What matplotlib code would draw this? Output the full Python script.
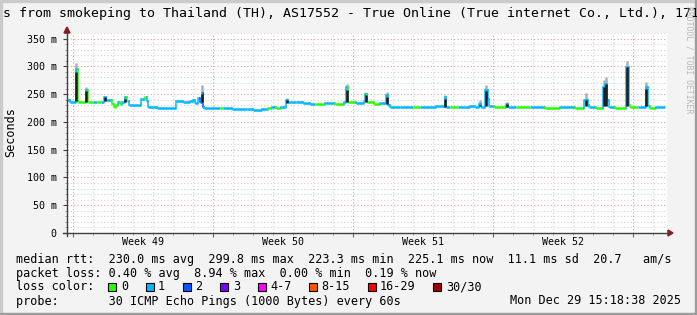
import numpy as np
import matplotlib.pyplot as plt
from matplotlib.lines import Line2D
from matplotlib.patches import Rectangle, Polygon

W, H = 697, 315
BACK = "#F3F3F3"
MONO = "DejaVu Sans Mono"
AXIS = "#404040"
ARROW = "#8b1a1a"

# median rtt as steps: start day, value (ms), loss colour index
step_day = [0.00, 0.15, 0.45, 0.53, 0.95, 1.03, 1.30, 1.50, 1.70, 1.87, 1.97, 2.25, 2.33, 2.45,
            2.55, 2.65, 2.75, 2.90, 3.00, 3.08, 3.70, 3.90, 4.00, 4.05, 4.50, 5.45, 5.80, 6.15,
            6.30, 6.40, 6.55, 6.65, 6.73, 6.78, 6.85, 7.65, 7.80, 8.25, 9.00, 9.30, 9.75, 10.05,
            10.25, 10.45, 10.70, 10.97, 11.05, 11.45, 11.80, 12.15, 12.40, 12.90, 13.40, 13.85,
            13.97, 14.05, 14.45, 14.85, 14.92, 15.00, 15.35, 15.65, 15.95, 16.03, 16.15, 16.65,
            17.30, 17.65, 18.45, 18.88, 18.95, 19.15, 19.55, 20.15, 20.40, 20.62, 20.70, 20.90,
            21.03, 21.10, 21.35, 21.95, 22.05, 22.45, 23.15, 23.90, 24.65, 25.40, 25.85, 26.03,
            26.10, 26.45, 26.80, 26.90, 27.00, 27.08, 27.40, 27.95, 28.08, 28.15, 28.55, 28.93,
            29.03, 29.15, 29.45]
step_ms = [240, 235, 295, 236, 258, 236, 235, 236, 235, 244, 239, 233, 226, 230,
           236, 233, 236, 244, 238, 230, 241, 244, 238, 227, 225, 237, 236, 238,
           240, 234, 243, 236, 252, 227, 225, 225, 225, 224, 223, 222, 224, 225,
           226, 225, 226, 240, 235, 236, 234, 233, 233, 234, 233, 236,
           262, 235, 234, 237, 250, 236, 233, 234, 248, 230, 226, 227,
           226, 227, 228, 244, 227, 226, 227, 229, 227, 232, 227, 258,
           241, 228, 226, 233, 226, 226, 226, 225, 226, 225, 240, 230,
           226, 225, 262, 268, 240, 226, 225, 298, 230, 226, 226, 262,
           228, 225, 226]
step_loss = [1, 1, 1, 0, 1, 0, 1, 0, 1, 1, 1, 0, 0, 0,
             1, 0, 1, 1, 0, 1, 1, 0, 1, 1, 1, 1, 1, 1,
             1, 1, 1, 2, 1, 2, 1, 0, 1, 1, 1, 1, 1, 0,
             1, 0, 1, 1, 1, 1, 1, 1, 0, 1, 0, 1,
             1, 0, 1, 1, 1, 0, 0, 1, 1, 1, 1, 1,
             0, 1, 1, 1, 1, 0, 1, 1, 1, 1, 1, 1,
             1, 1, 0, 1, 1, 0, 1, 0, 1, 0, 1, 1,
             1, 0, 1, 1, 1, 1, 0, 1, 1, 0, 1, 1,
             1, 0, 1]
end_day = 29.9

# smoke (spread of the 30 pings) at the spikes
smoke_day = [0.47, 0.97, 1.90, 2.92, 6.74, 11.00, 13.98, 14.93, 15.98, 18.92,
             20.63, 20.95, 21.98, 25.93, 26.85, 26.95, 28.02, 28.97]
smoke_lo = [237, 236, 238, 235, 235, 234, 235, 236, 232, 227,
            228, 228, 227, 228, 228, 228, 228, 228]
smoke_core = [290, 255, 244, 242, 250, 239, 258, 248, 245, 242,
              231, 255, 232, 240, 262, 268, 298, 260]
smoke_hi = [306, 262, 247, 247, 266, 243, 268, 254, 254, 248,
            240, 267, 236, 252, 275, 280, 310, 271]

loss_labels = ["0", "1", "2", "3", "4-7", "8-15", "16-29", "30/30"]
loss_colors = ["#26ff00", "#00b8ff", "#0059ff", "#7e00ff", "#ff00ff", "#ff5500", "#ff0000", "#a10000"]

week_labels = ["Week 49", "Week 50", "Week 51", "Week 52"]
week_starts = [0.3, 7.3, 14.3, 21.3, 28.3]

rtt_stats = [230.0, 299.8, 223.3, 225.1]
rtt_sd = 11.1
rtt_ams = 20.7
loss_stats = [0.40, 8.94, 0.00, 0.19]

title = "s from smokeping to Thailand (TH), AS17552 - True Online (True internet Co., Ltd.), 171"
probe = "30 ICMP Echo Pings (1000 Bytes) every 60s"
stamp = "Mon Dec 29 15:18:38 2025"


def fx(x):
    return x / W


def fy(y):
    return 1 - y / H


fig = plt.figure(figsize=(W / 100, H / 100), dpi=100)
fig.patch.set_facecolor(BACK)

ax = fig.add_axes([fx(67), fy(233), 600 / W, 200 / H])
ax.set_facecolor("white")
ax.set_xlim(0, 30)
ax.set_ylim(0, 360)
for s in ax.spines.values():
    s.set_visible(False)

ax.set_yticks(np.arange(0, 351, 50))
ax.set_yticks(np.arange(0, 361, 10), minor=True)
ax.set_yticklabels(["0"] + [f"{v} m" for v in range(50, 351, 50)], family=MONO, fontsize=7.2)
ax.set_xticks(week_starts)
ax.set_xticks(np.arange(0.3, 30, 1), minor=True)
ax.set_xticklabels([])
ax.tick_params(axis="y", which="major", length=3, color=AXIS, pad=4.5)
ax.tick_params(axis="y", which="minor", length=1.5, color="#909090")
ax.tick_params(axis="x", which="major", length=3, color="#c04040")
ax.tick_params(axis="x", which="minor", length=1.5, color="#909090")
ax.grid(which="minor", color="#d2d2d2", ls=(0, (1, 2)), lw=0.8)
ax.grid(which="major", color="#e6a0a0", ls=(0, (1, 2)), lw=0.8)
ax.set_axisbelow(True)

# median line, coloured by packet loss
for i in range(len(step_day)):
    d0 = step_day[i]
    d1 = step_day[i + 1] if i + 1 < len(step_day) else end_day
    c = loss_colors[step_loss[i]]
    ax.plot([d0, d1], [step_ms[i], step_ms[i]], color=c, lw=1.8,
            solid_capstyle="butt", zorder=3)
    if i > 0:
        ax.plot([d0, d0], [step_ms[i - 1], step_ms[i]], color=c, lw=1.1,
                solid_capstyle="projecting", zorder=3)

ax.vlines(smoke_day, smoke_lo, smoke_hi, color="#b0b0b0", lw=1.8, zorder=2)
ax.vlines(smoke_day, smoke_lo, smoke_core, color="#1c1c1c", lw=1.8, zorder=4)

for lab, a, b in zip(week_labels, week_starts[:-1], week_starts[1:]):
    ax.text((a + b) / 2, -9 / 200, lab, transform=ax.get_xaxis_transform(),
            ha="center", va="center", family=MONO, fontsize=7.2)

# axes with arrows
fig.add_artist(Line2D([fx(63), fx(669)], [fy(233), fy(233)], color=AXIS, lw=1))
fig.add_artist(Line2D([fx(67), fx(67)], [fy(236), fy(31)], color=AXIS, lw=1))
fig.add_artist(Polygon([[fx(668), fy(230)], [fx(673), fy(233)], [fx(668), fy(236)]],
                       closed=True, color=ARROW, transform=fig.transFigure))
fig.add_artist(Polygon([[fx(64), fy(33)], [fx(67), fy(27)], [fx(70), fy(33)]],
                       closed=True, color=ARROW, transform=fig.transFigure))

# title, labels, watermark
fig.text(fx(3), fy(13), title, ha="left", va="center", family=MONO, fontsize=9.57)
fig.text(fx(11), fy(132), "Seconds", rotation=90, ha="center", va="center",
         family=MONO, fontsize=8.5)
fig.text(fx(689), fy(60), "RRDTOOL / TOBI OETIKER", rotation=270, ha="center", va="center",
         family=MONO, fontsize=5.85, color="#b8b8b8")

# legend
LX = 15.5
line1 = "median rtt:  " + "".join(f"{v:.1f} ms {k}  " for v, k in zip(rtt_stats, ["avg", "max", "min", "now"]))
line1 += f"{rtt_sd:.1f} ms sd  {rtt_ams:.1f}   am/s"
line2 = "packet loss: " + "  ".join(f"{v:.2f} % {k}" for v, k in zip(loss_stats, ["avg", "max", "min", "now"]))
fig.text(fx(LX), fy(259), line1, ha="left", va="center", family=MONO, fontsize=8.5)
fig.text(fx(LX), fy(273), line2, ha="left", va="center", family=MONO, fontsize=8.5)
fig.text(fx(LX), fy(287), "loss color:", ha="left", va="center", family=MONO, fontsize=8.5)
fig.text(fx(LX), fy(301), "probe:       " + probe, ha="left", va="center", family=MONO, fontsize=8.5)
fig.text(fx(681), fy(301), stamp, ha="right", va="center", family=MONO, fontsize=8.5)

bx = 108.3
for lab, col in zip(loss_labels, loss_colors):
    fig.add_artist(Rectangle((fx(bx), fy(291)), 8 / W, 8 / H, facecolor=col,
                             edgecolor="black", lw=0.8, transform=fig.transFigure))
    fig.text(fx(bx + 12.5), fy(287), lab, ha="left", va="center", family=MONO, fontsize=8.5)
    bx += 30.2 + 7.1 * len(lab)

# 3d frame
fig.add_artist(Rectangle((0, fy(2)), 1, 2 / H, color="#cbcbcb", transform=fig.transFigure))
fig.add_artist(Rectangle((0, 0), 2 / W, 1, color="#cbcbcb", transform=fig.transFigure))
fig.add_artist(Rectangle((0, 0), 1, 2.5 / H, color="#9c9c9c", transform=fig.transFigure))
fig.add_artist(Rectangle((fx(694.5), 0), 2.5 / W, 1, color="#9c9c9c", transform=fig.transFigure))

fig.savefig("out.png", dpi=100, facecolor=BACK)
